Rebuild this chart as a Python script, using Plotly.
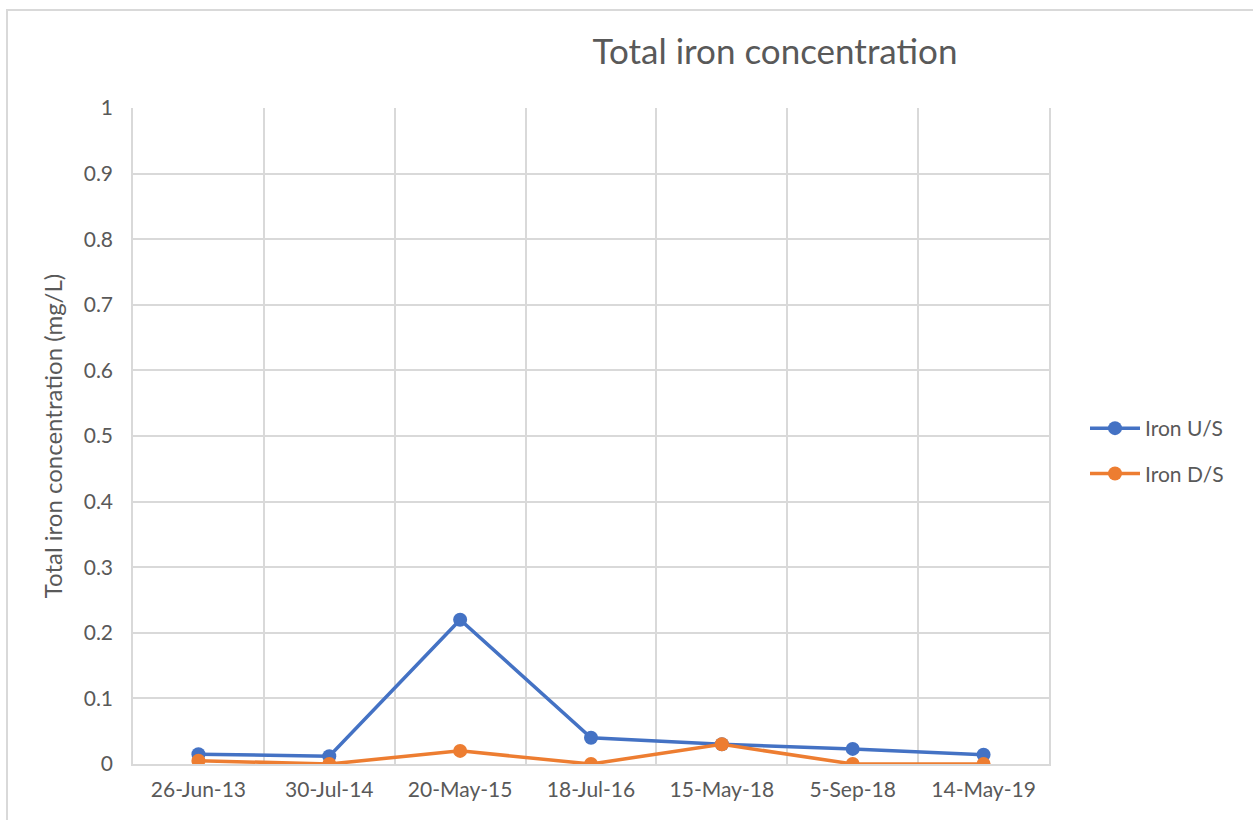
import plotly.graph_objects as go

dates = ["26-Jun-13", "30-Jul-14", "20-May-15", "18-Jul-16", "15-May-18", "5-Sep-18", "14-May-19"]
iron_us = [0.015, 0.012, 0.22, 0.04, 0.03, 0.023, 0.014]
iron_ds = [0.005, 0.0, 0.02, 0.0, 0.03, 0.0, 0.0]

W, H = 1253, 820
L, R, T, B = 133, 1049, 108, 764
pw, ph = R - L, B - T

FONT = "Lato, 'Open Sans', sans-serif"
GRAY = "#595959"

fig = go.Figure()
fig.add_trace(go.Scatter(x=dates, y=iron_us, name="Iron U/S", mode="lines+markers",
                         legendgroup="us",
                         line=dict(color="#4472C4", width=3.5),
                         marker=dict(size=14, color="#4472C4")))
fig.add_trace(go.Scatter(x=dates, y=iron_ds, name="Iron D/S", mode="lines+markers",
                         legendgroup="ds",
                         line=dict(color="#ED7D31", width=3.5),
                         marker=dict(size=14, color="#ED7D31")))

def px_x(p):
    return (p - L) / pw

def px_y(p):
    return (B - p) / ph

fig.add_shape(type="rect", xref="paper", yref="paper",
              x0=px_x(7), x1=px_x(1300), y0=px_y(10), y1=px_y(900),
              line=dict(color="#D9D9D9", width=2), fillcolor="rgba(0,0,0,0)", layer="below")

fig.update_layout(
    width=W, height=H,
    margin=dict(l=L, r=W - R, t=T, b=H - B, autoexpand=False),
    paper_bgcolor="white", plot_bgcolor="white",
    font=dict(family=FONT, color=GRAY, size=21),
    title=dict(text="Total iron concentration", x=775 / W, xanchor="center",
               y=1 - 52 / H, yanchor="middle",
               font=dict(size=35, color=GRAY, family=FONT)),
    xaxis=dict(type="category", tickson="boundaries", showgrid=True, gridcolor="#D9D9D9",
               gridwidth=1.5, showline=True, linecolor="#D9D9D9", linewidth=1.5,
               range=[-0.5, len(dates) - 0.5], autorange=False,
               ticks="", tickfont=dict(size=21, color=GRAY), mirror=False,
               ticklabelstandoff=6),
    yaxis=dict(range=[0, 1], dtick=0.1, showgrid=True, gridcolor="#D9D9D9", gridwidth=1.5,
               showline=True, linecolor="#D9D9D9", linewidth=1.5, mirror=True,
               zeroline=False, ticks="", tickfont=dict(size=21, color=GRAY),
               tickformat="~g", ticklabelstandoff=14,
               title=dict(text="Total iron concentration (mg/L)", font=dict(size=24, color=GRAY),
                          standoff=14)),
    legend=dict(x=px_x(1085), y=px_y(408), xanchor="left", yanchor="top",
                font=dict(size=21, color=GRAY), itemwidth=50, tracegroupgap=15,
                bgcolor="rgba(0,0,0,0)"),
    showlegend=True,
)

fig.write_html("out.html", config={"displayModeBar": False},
               post_script="document.body.style.margin='0';document.body.style.padding='0';")
